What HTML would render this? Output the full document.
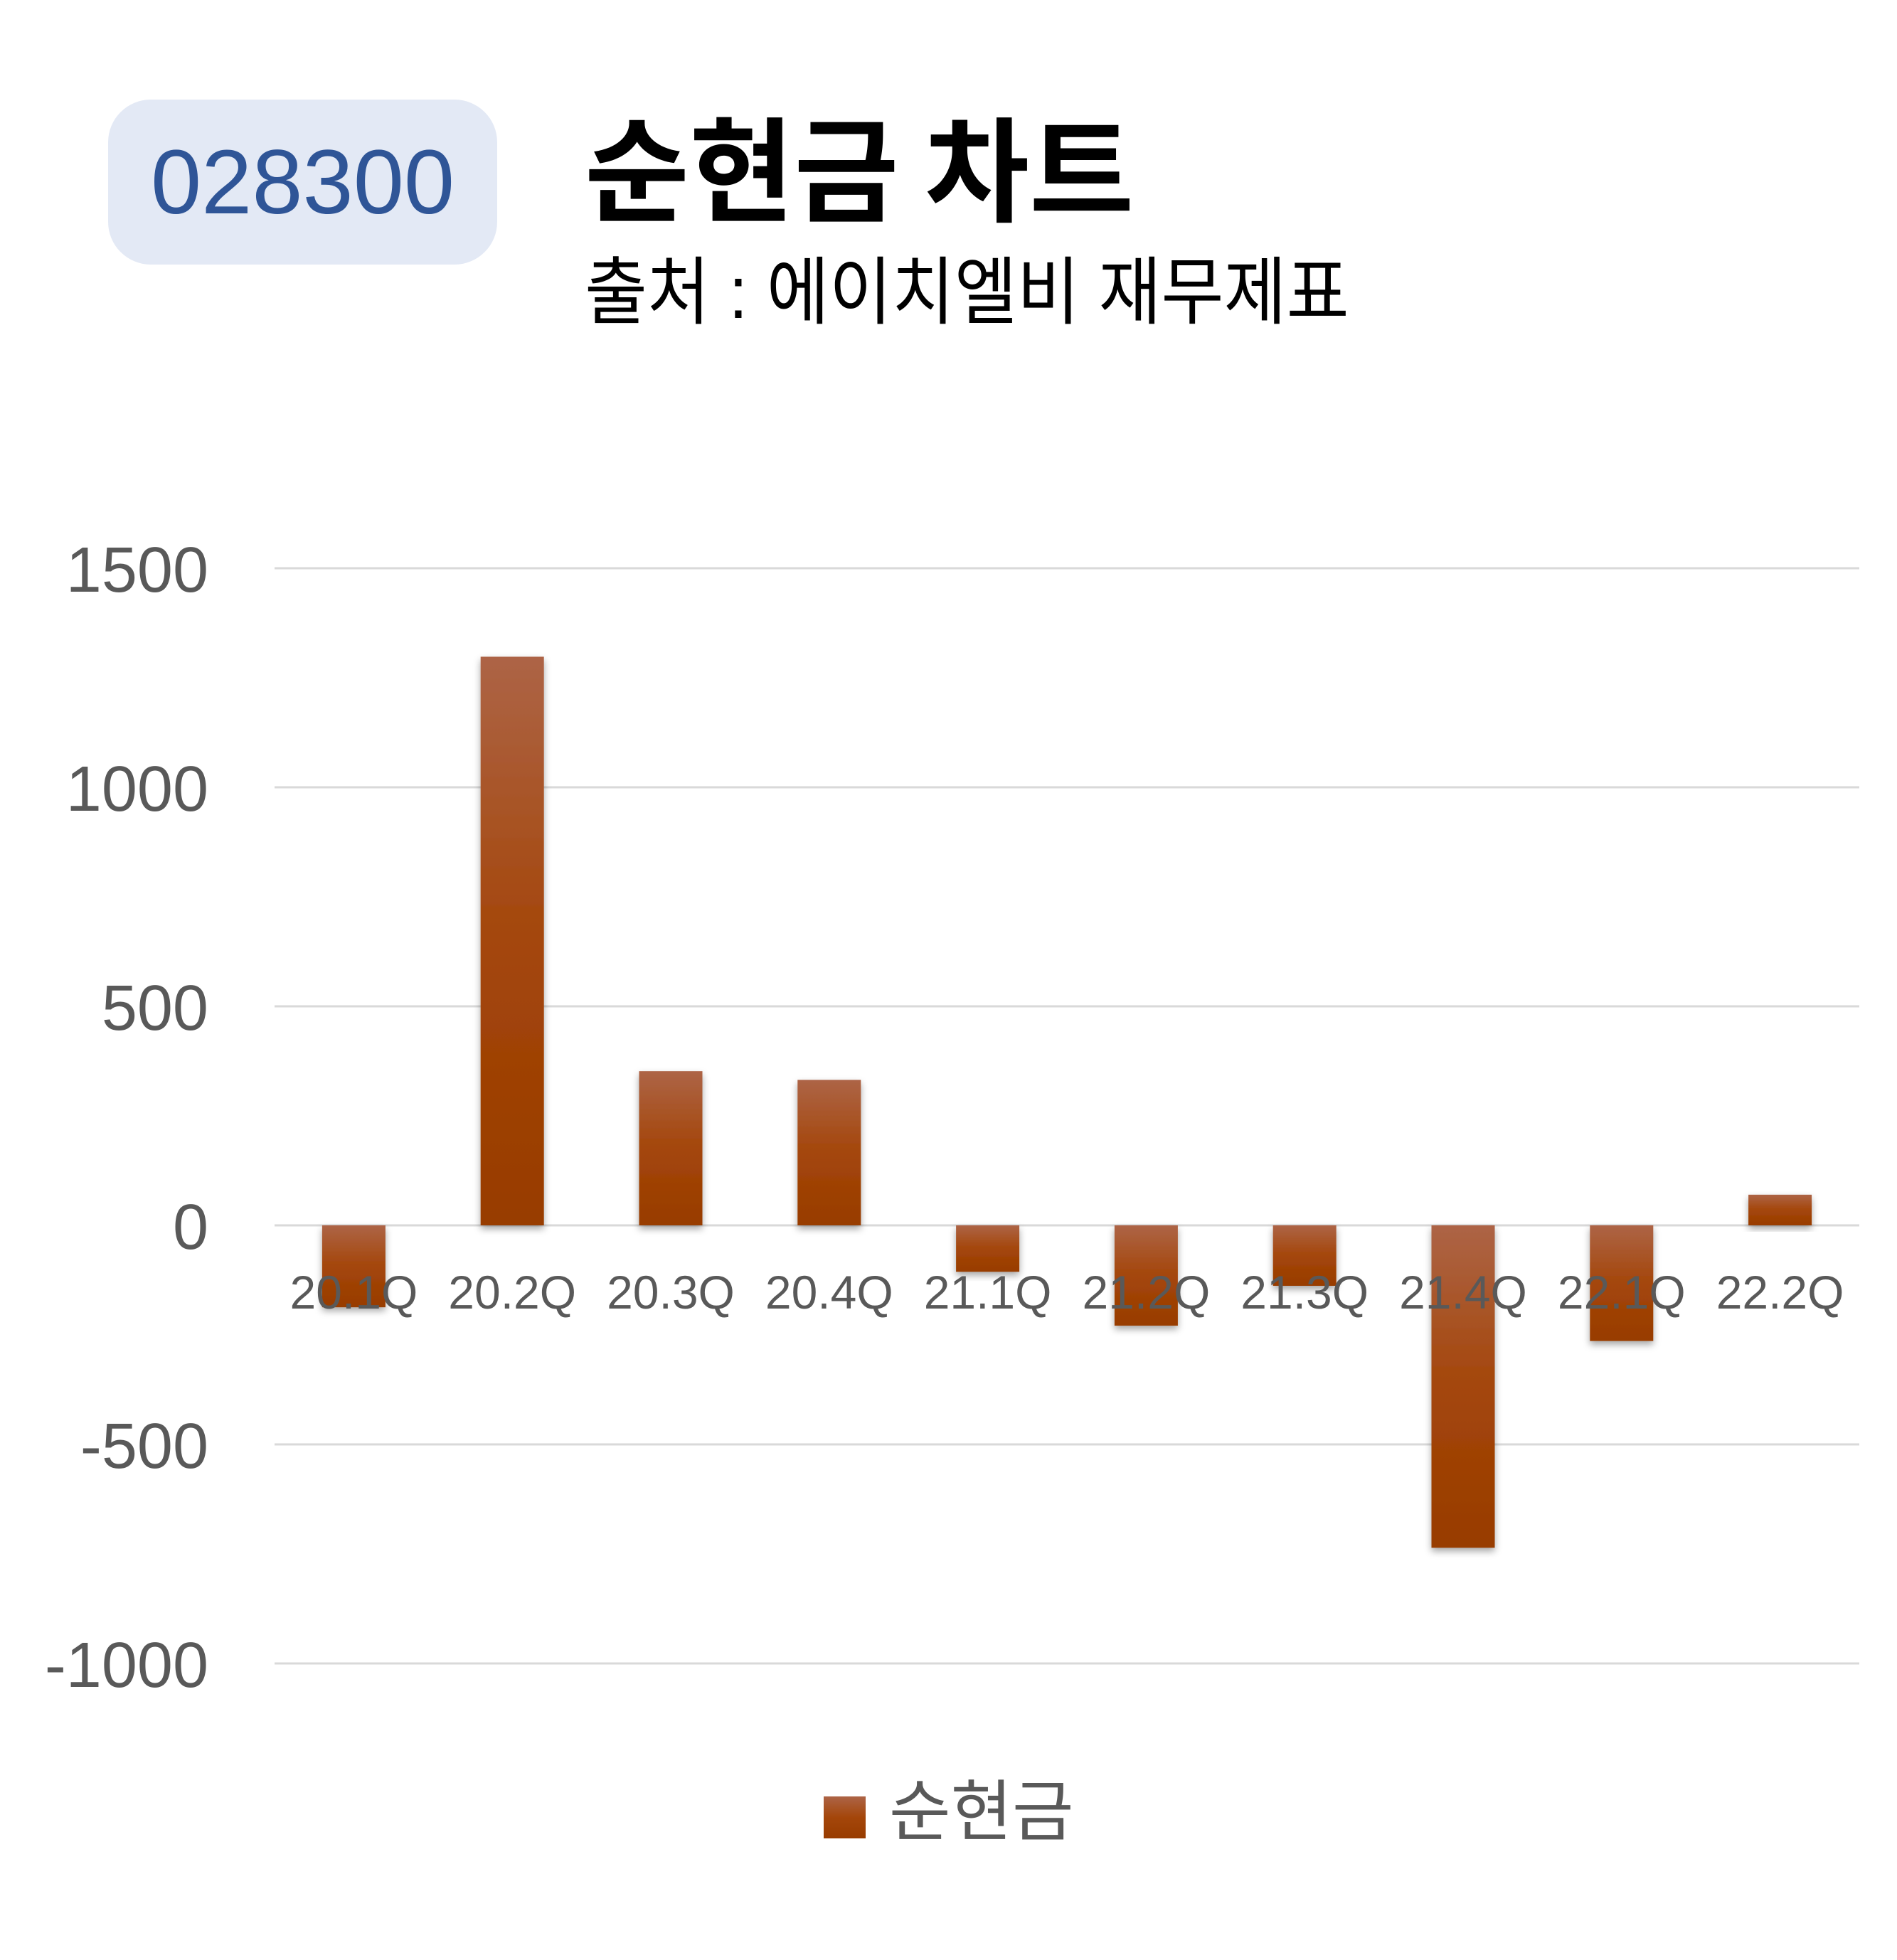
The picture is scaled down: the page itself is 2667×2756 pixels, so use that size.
<!DOCTYPE html>
<html><head><meta charset="utf-8">
<style>
html,body{margin:0;padding:0;background:#fff;}
body{width:2667px;height:2756px;position:relative;overflow:hidden;font-family:"Liberation Sans","Noto Sans CJK KR",sans-serif;}
#badge{position:absolute;left:152px;top:140px;width:547px;height:232px;background:#e3e9f5;border-radius:60px;display:flex;align-items:center;justify-content:center;color:#2f5597;font-size:128px;}
#title{position:absolute;left:822px;top:150px;font-size:160px;font-weight:bold;color:#000;line-height:1;font-family:"Noto Sans CJK KR","Liberation Sans",sans-serif;}
#subtitle{position:absolute;left:822px;top:360px;font-size:104px;color:#000;line-height:1;font-family:"Liberation Sans","Noto Sans CJK KR",sans-serif;transform:scaleX(0.92);transform-origin:left top;}
svg{position:absolute;left:0;top:0;}
</style></head>
<body>
<div id="badge">028300</div>
<div id="title">순현금 차트</div>
<div id="subtitle">출처 : 에이치엘비 재무제표</div>
<svg id="chart" width="2667" height="2756">
<defs>
<linearGradient id="barGrad" x1="0" y1="0" x2="0" y2="1">
<stop offset="0" stop-color="#ad6446"/>
<stop offset="0.5" stop-color="#a4460a"/>
<stop offset="1" stop-color="#983c00"/>
</linearGradient>
<filter id="shadow" x="-20%" y="-20%" width="140%" height="140%">
<feDropShadow dx="0" dy="5" stdDeviation="5" flood-color="#000" flood-opacity="0.35"/>
</filter>
</defs>
<g id="grid"></g><g id="bars"></g><g id="labels"></g>
<rect x="1158" y="2526" width="59" height="59" fill="url(#barGrad)"/>
<text x="1250" y="2580" font-size="94" fill="#595959" font-family="Liberation Sans, Noto Sans CJK KR, sans-serif">순현금</text>
</svg>
<script>
const categories = ["20.1Q","20.2Q","20.3Q","20.4Q","21.1Q","21.2Q","21.3Q","21.4Q","22.1Q","22.2Q"];
const values = [-187, 1298, 352, 332, -106, -229, -138, -736, -264, 70];
const yTicks = [1500, 1000, 500, 0, -500, -1000];

const NS = "http://www.w3.org/2000/svg";
const plotLeft = 386, plotRight = 2614;
const y0 = 1723, pxPer = 308 / 500;
const yScale = v => y0 - v * pxPer;
const band = (plotRight - plotLeft) / categories.length;
const xCenter = i => plotLeft + band * (i + 0.5);
const barW = 89;

const grid = document.getElementById('grid');
const bars = document.getElementById('bars');
const labels = document.getElementById('labels');

yTicks.forEach(t => {
  const l = document.createElementNS(NS, 'line');
  l.setAttribute('x1', plotLeft); l.setAttribute('x2', plotRight);
  l.setAttribute('y1', yScale(t)); l.setAttribute('y2', yScale(t));
  l.setAttribute('stroke', '#d9d9d9'); l.setAttribute('stroke-width', '3');
  
  
  grid.appendChild(l);
  const tx = document.createElementNS(NS, 'text');
  tx.setAttribute('x', 293); tx.setAttribute('y', yScale(t) + 33);
  tx.setAttribute('text-anchor', 'end'); tx.setAttribute('font-size', '90');
  tx.setAttribute('fill', '#595959');
  tx.setAttribute('font-family', 'Liberation Sans, sans-serif');
  tx.textContent = t;
  
  
  labels.appendChild(tx);
});

values.forEach((v, i) => {
  const r = document.createElementNS(NS, 'rect');
  const top = Math.min(yScale(v), y0), h = Math.abs(yScale(v) - y0);
  r.setAttribute('x', xCenter(i) - barW / 2); r.setAttribute('y', top);
  r.setAttribute('width', barW); r.setAttribute('height', h);
  r.setAttribute('fill', 'url(#barGrad)'); r.setAttribute('filter', 'url(#shadow)');
  
  
  bars.appendChild(r);
});

categories.forEach((c, i) => {
  const tx = document.createElementNS(NS, 'text');
  tx.setAttribute('x', xCenter(i)); tx.setAttribute('y', 1840);
  tx.setAttribute('text-anchor', 'middle'); tx.setAttribute('font-size', '66');
  tx.setAttribute('fill', '#595959');
  tx.setAttribute('font-family', 'Liberation Sans, sans-serif');
  tx.textContent = c;
  
  
  labels.appendChild(tx);
});
</script>
</body></html>
